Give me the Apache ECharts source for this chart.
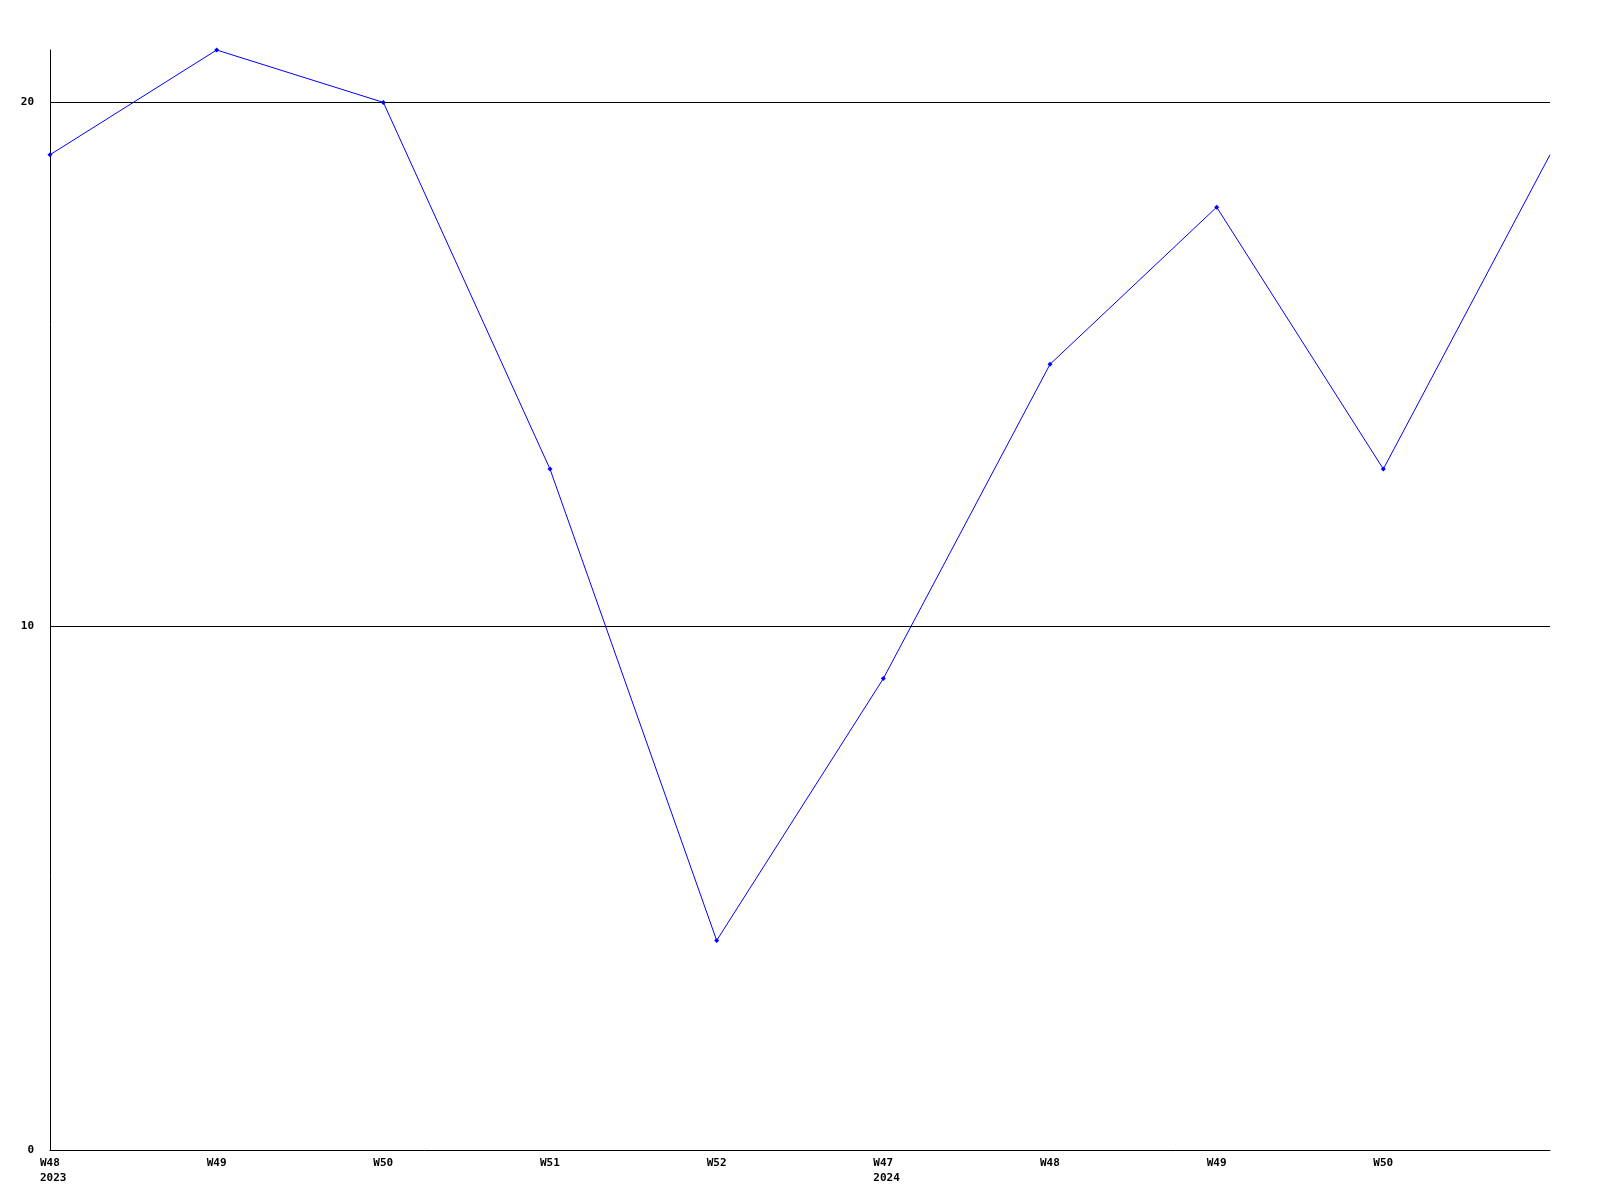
<!DOCTYPE html>
<html>
<head>
<meta charset="utf-8">
<script src="https://cdn.jsdelivr.net/npm/echarts@6/dist/echarts.min.js"></script>
<style>
html,body{margin:0;padding:0;background:#fff;}
#chart{width:1600px;height:1200px;}
</style>
</head>
<body>
<div id="chart"></div>
<script>
const categories = ['W48\n2023', 'W49', 'W50', 'W51', 'W52', 'W47\n2024', 'W48', 'W49', 'W50', 'W51'];
const values = [19, 21, 20, 13, 4, 9, 15, 18, 13, 19];
const yTicks = [0, 10, 20];

const font = 'DejaVu Sans Mono';
const chart = echarts.init(document.getElementById('chart'), null, {renderer: 'canvas'});
chart.setOption({
  animation: false,
  backgroundColor: '#ffffff',
  grid: {left: 50, right: 50, top: 50, bottom: 50, containLabel: false},
  xAxis: {
    type: 'category',
    data: categories,
    boundaryGap: false,
    axisLine: {show: true, lineStyle: {color: '#000', width: 1}},
    axisTick: {show: false},
    splitLine: {show: false},
    axisLabel: {
      show: true, interval: 0,
      formatter: (v, i) => i === categories.length - 1 ? '' :
        v.split('\n').map(s => '{w|' + s + '}').join('\n'),
      rich: {w: {width: 20, align: 'left', color: '#000', fontFamily: font, fontWeight: 'bold', fontSize: 11, lineHeight: 15}},
      color: '#000', fontFamily: font, fontWeight: 'bold', fontSize: 11,
      lineHeight: 15, margin: 6
    }
  },
  yAxis: {
    type: 'value',
    min: 0, max: 21, interval: 10,
    axisLine: {show: true, lineStyle: {color: '#000', width: 1}},
    axisTick: {show: false},
    splitLine: {show: true, showMinLine: false, showMaxLine: false, lineStyle: {color: '#000', width: 1}},
    axisLabel: {
      show: true, customValues: yTicks,
      color: '#000', fontFamily: font, fontWeight: 'bold', fontSize: 11, margin: 16
    }
  },
  series: [{
    type: 'line',
    data: values,
    lineStyle: {color: '#0000ff', width: 1},
    itemStyle: {color: '#0000ff'},
    symbol: 'diamond',
    symbolSize: (v, p) => p.dataIndex === values.length - 1 ? 0 : 5,
    showSymbol: true,
    clip: false
  }]
});
</script>
</body>
</html>
